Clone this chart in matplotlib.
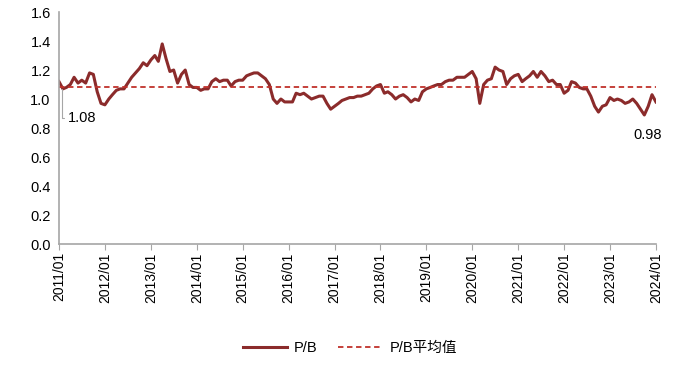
import numpy as np
import pandas as pd
import matplotlib
matplotlib.use('Agg')
import matplotlib.pyplot as plt
import matplotlib.dates as mdates

plt.rcParams['font.family'] = ['Liberation Sans', 'Noto Sans CJK SC', 'DejaVu Sans']

# monthly P/B readings, 2011/01 .. 2024/01
pb_2011 = [1.12, 1.07, 1.08, 1.10, 1.15, 1.11, 1.13, 1.11, 1.18, 1.17, 1.05, 0.97]
pb_2012 = [0.96, 1.00, 1.03, 1.06, 1.07, 1.07, 1.11, 1.15, 1.18, 1.21, 1.25, 1.23]
pb_2013 = [1.27, 1.30, 1.26, 1.38, 1.28, 1.19, 1.20, 1.11, 1.17, 1.20, 1.10, 1.08]
pb_2014 = [1.08, 1.06, 1.07, 1.07, 1.12, 1.14, 1.12, 1.13, 1.13, 1.09, 1.12, 1.13]
pb_2015 = [1.13, 1.16, 1.17, 1.18, 1.18, 1.16, 1.14, 1.10, 1.00, 0.97, 1.00, 0.98]
pb_2016 = [0.98, 0.98, 1.04, 1.03, 1.04, 1.02, 1.00, 1.01, 1.02, 1.02, 0.97, 0.93]
pb_2017 = [0.95, 0.97, 0.99, 1.00, 1.01, 1.01, 1.02, 1.02, 1.03, 1.04, 1.07, 1.09]
pb_2018 = [1.10, 1.04, 1.05, 1.03, 1.00, 1.02, 1.03, 1.01, 0.98, 1.00, 0.99, 1.05]
pb_2019 = [1.07, 1.08, 1.09, 1.10, 1.10, 1.12, 1.13, 1.13, 1.15, 1.15, 1.15, 1.17]
pb_2020 = [1.19, 1.14, 0.97, 1.10, 1.13, 1.14, 1.22, 1.20, 1.19, 1.10, 1.14, 1.16]
pb_2021 = [1.17, 1.12, 1.14, 1.16, 1.19, 1.15, 1.19, 1.16, 1.12, 1.13, 1.10, 1.10]
pb_2022 = [1.04, 1.06, 1.12, 1.11, 1.08, 1.07, 1.07, 1.02, 0.95, 0.91, 0.95, 0.96]
pb_2023 = [1.01, 0.99, 1.00, 0.99, 0.97, 0.98, 1.00, 0.97, 0.93, 0.89, 0.95, 1.03]
pb_2024 = [0.98]

pb = (pb_2011 + pb_2012 + pb_2013 + pb_2014 + pb_2015 + pb_2016 + pb_2017 +
      pb_2018 + pb_2019 + pb_2020 + pb_2021 + pb_2022 + pb_2023 + pb_2024)
dates = pd.date_range('2011-01-01', periods=len(pb), freq='MS')
pb_mean = 1.08

line_color = '#8B2B2B'
mean_color = '#C0312B'
axis_color = '#A6A6A6'

fig = plt.figure(figsize=(7.0, 3.76), dpi=100)
ax = fig.add_axes([0.0843, 0.351, 0.8527, 0.617])

ax.plot(dates, pb, color=line_color, lw=2.2, label='P/B', solid_joinstyle='round')
ax.plot([dates[0], dates[-1]], [pb_mean, pb_mean], color=mean_color, lw=1.3,
        ls=(0, (3, 2)), label='P/B平均值')

ax.set_xlim(dates[0], dates[-1])
ax.set_ylim(0, 1.6)
ax.set_yticks(np.arange(0, 1.61, 0.2))
ax.yaxis.set_major_formatter(matplotlib.ticker.FormatStrFormatter('%.1f'))
ax.xaxis.set_major_locator(mdates.YearLocator())
ax.xaxis.set_major_formatter(mdates.DateFormatter('%Y/%m'))
ax.tick_params(axis='x', rotation=90, labelsize=10, length=4, color=axis_color,
               direction='out', pad=2)
ax.tick_params(axis='y', labelsize=10.5, length=0, pad=6)

for s in ['top', 'right']:
    ax.spines[s].set_visible(False)
for s in ['left', 'bottom']:
    ax.spines[s].set_color(axis_color)
    ax.spines[s].set_linewidth(1.2)

# data labels
ax.annotate('%.2f' % pb_mean, xy=(dates[0] + pd.Timedelta(days=20), pb_mean - 0.01),
            xytext=(dates[2] + pd.Timedelta(days=10), 0.87), fontsize=10.5,
            va='center', ha='left',
            arrowprops=dict(arrowstyle='-', color=axis_color, lw=0.8,
                            connectionstyle='angle,angleA=0,angleB=90,rad=0',
                            shrinkA=1, shrinkB=0))
ax.annotate('%.2f' % pb[-1], xy=(dates[-1], pb[-1]), xytext=(-6, -24),
            textcoords='offset points', fontsize=10.5, ha='center', va='center')

fig.legend(loc='lower center', bbox_to_anchor=(0.5, 0.02), ncol=2, frameon=False,
           fontsize=10.5, handlelength=3, columnspacing=1.4, handletextpad=0.5)

fig.savefig('out.png', dpi=100)
